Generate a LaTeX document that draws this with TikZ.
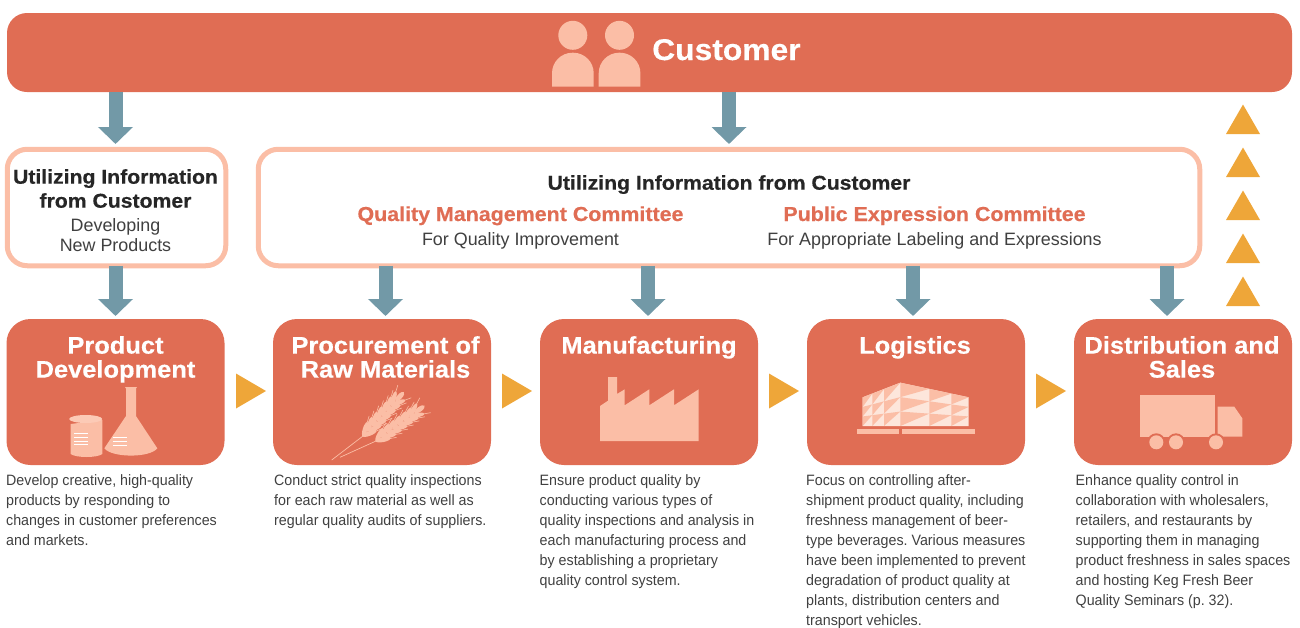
\documentclass[tikz,border=0pt]{standalone}
\usepackage{fontspec}
\setmainfont{Liberation Sans}
\newfontfamily\bodyfont[FakeStretch=0.95]{Liberation Sans}
\newfontfamily\heavyfont[BoldFeatures={FakeBold=0.4,FakeStretch=1.06}]{Liberation Sans}
\usepackage{tikz}
\usetikzlibrary{arrows.meta}

\definecolor{salmon}{HTML}{E06D54}
\definecolor{blush}{HTML}{FBBEA6}
\definecolor{pale}{HTML}{FDE6DB}
\definecolor{teal}{HTML}{7299A7}
\definecolor{amber}{HTML}{EEA639}
\definecolor{ink}{HTML}{404040}

\tikzset{
	bandbox/.style={fill=salmon,rounded corners=20pt,inner sep=0pt,outer sep=0pt,minimum width=1285pt,minimum height=79pt},
	infobox/.style={draw=blush,line width=5pt,fill=white,rounded corners=20pt,inner sep=0pt,outer sep=0pt,minimum height=116.5pt},
	procbox/.style={fill=salmon,rounded corners=24pt,inner sep=0pt,outer sep=0pt,minimum width=218pt,minimum height=146pt},
	proctitle/.style={anchor=north,align=center,text=white,font=\heavyfont\fontsize{24}{24}\selectfont\bfseries,inner sep=0pt},
	infotitle/.style={anchor=north,align=center,text=black!85,font=\heavyfont\fontsize{20}{24}\selectfont\bfseries,inner sep=0pt},
	committee/.style={anchor=base,text=salmon,font=\heavyfont\fontsize{20.2}{24}\selectfont\bfseries,inner sep=0pt},
	subtext/.style={anchor=north,align=center,text=ink,font=\fontsize{17.9}{20}\selectfont,inner sep=0pt},
	bodytext/.style={anchor=north west,align=left,text=ink,font=\bodyfont\fontsize{15}{20}\selectfont\frenchspacing,inner sep=0pt},
	flowarrow/.style={draw=teal,line width=14pt,-{Triangle[width=34pt,length=17pt]},shorten >=3pt},
	icon/.style={fill=blush},
}

% one ear of wheat, lying along its own x axis
\newcommand{\wheatear}[3]{
	\begin{scope}[shift={(#1,#2)},rotate=#3]
		\draw[blush,line width=0.7pt] (0,0) -- (58,0);
		\foreach \s in {0,7,...,42}
		\foreach \a in {-26,26} {
			\fill[blush,shift={(\s,0)},rotate=\a] (7,0) ellipse (7.5 and 2.3);
			\draw[blush,line width=0.6pt,shift={(\s,0)},rotate=\a] (12,0) -- (21,0);
		}
		\fill[blush] (54,0) ellipse (6 and 2.5);
	\end{scope}
}

\begin{document}
\begin{tikzpicture}[x=1pt,y=-1pt]
	\useasboundingbox (0,0) rectangle (1300,627);
	
	% customer band
	\node[bandbox] (customer) at (649.5,52.5) {};
	\foreach \x in {552,598.7} {
		\fill[icon] (\x+20.8,35.3) circle (14.5);
		\fill[icon] (\x,86.7) [rounded corners=20.5pt] -- (\x,52.7) -- (\x+41.7,52.7) [sharp corners] -- (\x+41.7,86.7) -- cycle;
	}
	\node[anchor=base west,text=white,font=\heavyfont\fontsize{30}{30}\selectfont\bfseries,inner sep=0pt] (customerlabel) at (652,60) {Customer};
	
	% information boxes
	\node[infobox,minimum width=218.5pt] (newprod) at (116.5,207.5) {};
	\node[infobox,minimum width=941.5pt] (quality) at (729,207.5) {};
	\node[infotitle] (newprodtitle) at (115.5,169) {Utilizing Information\\from Customer};
	\node[subtext] (newprodsub) at (115.5,218) {Developing\\New Products};
	\node[infotitle] (qualitytitle) at (729,175) {Utilizing Information from Customer};
	\node[committee] (qmc) at (520.5,221) {Quality Management Committee};
	\node[committee] (pec) at (934.5,221) {Public Expression Committee};
	\node[subtext] (qmcsub) at (520.5,232) {For Quality Improvement};
	\node[subtext] (pecsub) at (934.5,232) {For Appropriate Labeling and Expressions};
	
	% process boxes
	\node[procbox] (dev) at (115.5,392) {};
	\node[procbox] (raw) at (382,392) {};
	\node[procbox] (make) at (649,392) {};
	\node[procbox] (logi) at (916,392) {};
	\node[procbox] (sales) at (1183,392) {};
	\node[proctitle] (devtitle) at (115.5,336) {Product\\Development};
	\node[proctitle] (rawtitle) at (385.5,336) {Procurement of\\Raw Materials};
	\node[proctitle] (maketitle) at (649,336) {Manufacturing};
	\node[proctitle] (logititle) at (915,336) {Logistics};
	\node[proctitle] (salestitle) at (1182,336) {Distribution and\\Sales};
	
	% arrows down
	\coordinate (devin) at (115.5,147);
	\coordinate (qualityin) at (729,147);
	\coordinate (rawin) at (385.5,319);
	\coordinate (makein) at (648,319);
	\coordinate (logiin) at (913,319);
	\coordinate (salesin) at (1167,319);
	\draw[flowarrow] (customer.south -| devin) -- (devin);
	\draw[flowarrow] (customer.south -| qualityin) -- (qualityin);
	\draw[flowarrow] (newprod.south -| dev.north) -- (dev.north);
	\draw[flowarrow] (quality.south -| rawin) -- (rawin);
	\draw[flowarrow] (quality.south -| makein) -- (makein);
	\draw[flowarrow] (quality.south -| logiin) -- (logiin);
	\draw[flowarrow] (quality.south -| salesin) -- (salesin);
	
	% amber triangles
	\foreach \x in {236,502,769,1036}
	\fill[amber] (\x,373.5) -- (\x+30,391) -- (\x,408.5) -- cycle;
	\foreach \y in {134,177,220,263,306}
	\fill[amber] (1226,\y) -- (1243,\y-29.5) -- (1260,\y) -- cycle;
	
	% beaker and flask
	\fill[icon] (70.7,424) -- (70.7,454) .. controls (76,458) and (97,458) .. (102.3,454) -- (102.3,420) -- cycle;
	\fill[blush!70!pale] (85.7,419) ellipse (16.5 and 4);
	\fill[icon] (125,387) -- (137,387) -- (136,388.5) -- (136,416) -- (157.3,448.3) .. controls (150,458) and (112,458) .. (104.3,448.3) -- (126,416) -- (126,388.5) -- cycle;
	\foreach \y in {433,437,441,444}
	\draw[white,line width=0.7pt] (74,\y) -- (88,\y);
	\foreach \y in {437,441.5,445.5}
	\draw[white,line width=0.7pt] (113,\y) -- (127,\y);
	
	% wheat
	\draw[blush,line width=0.7pt] (331.7,460) -- (363,436);
	\draw[blush,line width=0.7pt] (340,457.3) -- (376,441);
	\wheatear{363}{436}{47}
	\wheatear{376}{441}{36}
	
	% factory
	\fill[icon] (600,441) -- (600,406) -- (608,400.7) -- (608,377) -- (617,377) -- (617,394) -- (624.7,389.3) -- (624.7,405.3) -- (649.3,389.3) -- (649.3,405.3) -- (674,389.3) -- (674,405.3) -- (698.7,389.3) -- (698.7,441) -- cycle;
	
	% warehouse
	\fill[pale] (862.7,426) -- (862.7,397.3) -- (900.3,382.7) -- (968.7,397.3) -- (968.7,426) -- cycle;
	\foreach \xa/\ya/\xb/\yb in {862.7/397.3/872.3/393.6,872.3/393.6/884/389,884/389/900.3/382.7,900.3/382.7/929.3/388.9,929.3/388.9/951.3/393.6,951.3/393.6/968.7/397.3}
	\foreach \r in {0,1,2} {
		\pgfmathsetmacro{\ytl}{\ya+(426-\ya)*\r/3}
		\pgfmathsetmacro{\ybl}{\ya+(426-\ya)*(\r+1)/3}
		\pgfmathsetmacro{\ytr}{\yb+(426-\yb)*\r/3}
		\fill[icon] (\xa,\ytl) -- (\xa,\ybl) -- (\xb,\ytr) -- cycle;
	}
	\fill[icon] (857,429) rectangle (899.3,434.3);
	\fill[icon] (902,429) rectangle (975,434.3);
	
	% truck
	\fill[icon] (1140.3,395) rectangle (1215,436.7);
	\fill[icon] (1217.7,406.7) -- (1234.3,406.7) -- (1242.3,418.3) -- (1242.3,436.7) -- (1217.7,436.7) -- cycle;
	\foreach \x in {1156.3,1176,1216} {
		\fill[salmon] (\x,442.3) circle (9);
		\fill[icon] (\x,442.3) circle (7);
	}
	
	% descriptions
	\node[bodytext] (devtext) at (6,474) {Develop creative, high-quality\\products by responding to\\changes in customer preferences\\and markets.};
	\node[bodytext] (rawtext) at (274,474) {Conduct strict quality inspections\\for each raw material as well as\\regular quality audits of suppliers.};
	\node[bodytext] (maketext) at (539.5,474) {Ensure product quality by\\conducting various types of\\quality inspections and analysis in\\each manufacturing process and\\by establishing a proprietary\\quality control system.};
	\node[bodytext] (logitext) at (806,474) {Focus on controlling after-\\shipment product quality, including\\freshness management of beer-\\type beverages. Various measures\\have been implemented to prevent\\degradation of product quality at\\plants, distribution centers and\\transport vehicles.};
	\node[bodytext] (salestext) at (1075.5,474) {Enhance quality control in\\collaboration with wholesalers,\\retailers, and restaurants by\\supporting them in managing\\product freshness in sales spaces\\and hosting Keg Fresh Beer\\Quality Seminars (p. 32).};
\end{tikzpicture}
\end{document}
